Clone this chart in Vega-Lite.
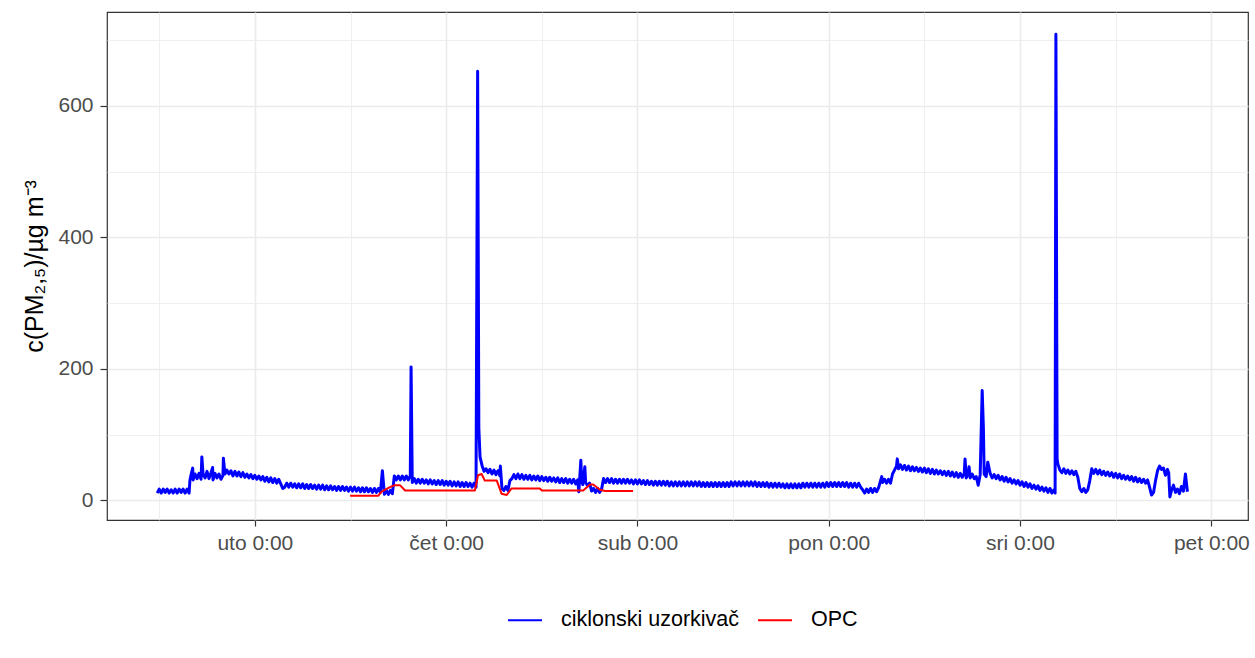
{
  "$schema": "https://vega.github.io/schema/vega-lite/v6.json",
  "width": 1141,
  "height": 508,
  "autosize": {"type": "none"},
  "padding": {"left": 107, "top": 12, "right": 7, "bottom": 138},
  "background": "white",
  "config": {
    "view": {"stroke": "#333333", "strokeWidth": 1.2},
    "font": "Liberation Sans"
  },
  "datasets": {
    "ciklonski": [
      {"h":-0.5,"v":11},{"h":0,"v":17},{"h":0.5,"v":11},{"h":1,"v":17},{"h":1.5,"v":12},{"h":2,"v":17},{"h":2.5,"v":11},{"h":3,"v":16},{"h":3.5,"v":11},{"h":4,"v":17},{"h":4.5,"v":11},{"h":5,"v":17},{"h":5.5,"v":12},{"h":6,"v":17},{"h":6.5,"v":11},{"h":7,"v":17},{"h":7.5,"v":11},
      {"h":7.7,"v":30},{"h":8,"v":39},{"h":8.4,"v":49},{"h":8.5,"v":31},{"h":9,"v":40},{"h":9.5,"v":33},{"h":10,"v":41},{"h":10.5,"v":32},{"h":10.7,"v":66},{"h":11,"v":40},{"h":11.5,"v":34},{"h":12,"v":44},{"h":12.5,"v":33},{"h":13,"v":42},{"h":13.4,"v":50},{"h":13.5,"v":31},{"h":14,"v":41},{"h":14.5,"v":34},{"h":15,"v":40},{"h":15.5,"v":32},{"h":16,"v":38},{"h":16.1,"v":64},{"h":16.5,"v":40},{"h":17,"v":46},{"h":17.5,"v":40},
      {"h":18,"v":45},{"h":18.5,"v":37},{"h":19,"v":44},{"h":19.5,"v":37},{"h":20,"v":43},{"h":20.5,"v":36},{"h":21,"v":42},{"h":21.5,"v":35},{"h":22,"v":40},{"h":22.5,"v":34},{"h":23,"v":39},{"h":23.5,"v":33},{"h":24,"v":38},{"h":24.5,"v":32},{"h":25,"v":37},{"h":25.5,"v":31},{"h":26,"v":36},{"h":26.5,"v":29},{"h":27,"v":35},{"h":27.5,"v":28},{"h":28,"v":34},{"h":28.5,"v":27},{"h":29,"v":33},{"h":29.5,"v":26},{"h":30,"v":32},{"h":30.5,"v":25},{"h":31,"v":18},{"h":31.5,"v":20},{"h":32,"v":26},{"h":32.5,"v":20},
      {"h":33,"v":26},{"h":33.5,"v":20},{"h":34,"v":25},{"h":34.5,"v":19},{"h":35,"v":25},{"h":35.5,"v":19},{"h":36,"v":25},{"h":36.5,"v":18},{"h":37,"v":24},{"h":37.5,"v":18},{"h":38,"v":24},{"h":38.5,"v":18},{"h":39,"v":23},{"h":39.5,"v":17},{"h":40,"v":23},{"h":40.5,"v":17},{"h":41,"v":23},{"h":41.5,"v":16},{"h":42,"v":22},{"h":42.5,"v":16},{"h":43,"v":22},{"h":43.5,"v":16},{"h":44,"v":21},{"h":44.5,"v":15},{"h":45,"v":21},{"h":45.5,"v":15},{"h":46,"v":21},{"h":46.5,"v":15},{"h":47,"v":20},{"h":47.5,"v":14},{"h":48,"v":20},{"h":48.5,"v":14},{"h":49,"v":20},{"h":49.5,"v":14},{"h":50,"v":19},{"h":50.5,"v":13},{"h":51,"v":19},{"h":51.5,"v":13},{"h":52,"v":19},{"h":52.5,"v":13},{"h":53,"v":18},{"h":53.5,"v":12},{"h":54,"v":18},{"h":54.5,"v":12},{"h":55,"v":18},{"h":55.5,"v":12},{"h":56,"v":45},{"h":56.5,"v":9},{"h":57,"v":15},{"h":57.5,"v":9},{"h":58,"v":15},{"h":58.5,"v":10},{"h":59,"v":37},{"h":59.5,"v":31},{"h":60,"v":37},{"h":60.5,"v":31},{"h":61,"v":37},{"h":61.5,"v":31},{"h":62,"v":37},{"h":62.5,"v":31},{"h":63,"v":37},{"h":63.2,"v":203},{"h":63.5,"v":27},
      {"h":64,"v":33},{"h":64.5,"v":26},{"h":65,"v":32},{"h":65.5,"v":26},{"h":66,"v":32},{"h":66.5,"v":26},{"h":67,"v":31},{"h":67.5,"v":25},{"h":68,"v":31},{"h":68.5,"v":25},{"h":69,"v":30},{"h":69.5,"v":24},{"h":70,"v":30},{"h":70.5,"v":24},{"h":71,"v":30},{"h":71.5,"v":23},{"h":72,"v":29},{"h":72.5,"v":23},{"h":73,"v":29},{"h":73.5,"v":22},{"h":74,"v":28},{"h":74.5,"v":22},{"h":75,"v":28},{"h":75.5,"v":21},{"h":76,"v":27},{"h":76.5,"v":21},{"h":77,"v":27},{"h":77.5,"v":21},{"h":78,"v":26},{"h":78.5,"v":20},{"h":79,"v":26},{"h":79.5,"v":20},{"h":79.9,"v":653},{"h":80.2,"v":110},{"h":80.5,"v":66},{"h":81,"v":53},{"h":81.5,"v":44},{"h":82,"v":48},{"h":82.5,"v":42},{"h":83,"v":47},{"h":83.5,"v":40},{"h":84,"v":46},{"h":84.5,"v":39},{"h":85,"v":45},{"h":85.5,"v":37},{"h":85.6,"v":52},{"h":86,"v":18},{"h":86.5,"v":15},{"h":87,"v":21},{"h":87.5,"v":15},{"h":88,"v":30},{"h":88.5,"v":33},{"h":89,"v":39},{"h":89.5,"v":33},{"h":90,"v":40},{"h":90.5,"v":33},
      {"h":91,"v":39},{"h":91.5,"v":32},{"h":92,"v":38},{"h":92.5,"v":32},{"h":93,"v":38},{"h":93.5,"v":31},{"h":94,"v":37},{"h":94.5,"v":31},{"h":95,"v":37},{"h":95.5,"v":30},{"h":96,"v":36},{"h":96.5,"v":30},{"h":97,"v":35},{"h":97.5,"v":29},{"h":98,"v":35},{"h":98.5,"v":29},{"h":99,"v":34},{"h":99.5,"v":28},{"h":100,"v":34},{"h":100.5,"v":27},{"h":101,"v":33},{"h":101.5,"v":27},{"h":102,"v":33},{"h":102.5,"v":26},{"h":103,"v":32},{"h":103.5,"v":26},{"h":104,"v":32},{"h":104.5,"v":25},{"h":105,"v":31},{"h":105.3,"v":13},{"h":105.8,"v":61},{"h":106,"v":28},{"h":106.3,"v":24},{"h":106.8,"v":51},{"h":107,"v":27},{"h":107.5,"v":22},{"h":108,"v":26},{"h":108.5,"v":14},{"h":109,"v":18},{"h":109.5,"v":12},{"h":110,"v":18},{"h":110.5,"v":12},{"h":111,"v":17},{"h":111.5,"v":33},{"h":112,"v":27},
      {"h":112.5,"v":33},{"h":113,"v":27},{"h":113.5,"v":33},{"h":114,"v":26},{"h":114.5,"v":32},{"h":115,"v":26},{"h":115.5,"v":32},{"h":116,"v":26},{"h":116.5,"v":32},{"h":117,"v":26},{"h":117.5,"v":32},{"h":118,"v":26},{"h":118.5,"v":31},{"h":119,"v":25},{"h":119.5,"v":31},{"h":120,"v":25},{"h":120.5,"v":31},{"h":121,"v":25},{"h":121.5,"v":30},{"h":122,"v":24},{"h":122.5,"v":30},{"h":123,"v":24},{"h":123.5,"v":29},{"h":124,"v":23},{"h":124.5,"v":29},{"h":125,"v":23},{"h":125.5,"v":29},{"h":126,"v":23},{"h":126.5,"v":29},{"h":127,"v":23},{"h":127.5,"v":29},{"h":128,"v":22},{"h":128.5,"v":28},{"h":129,"v":22},{"h":129.5,"v":28},{"h":130,"v":22},{"h":130.5,"v":28},{"h":131,"v":22},{"h":131.5,"v":28},{"h":132,"v":22},{"h":132.5,"v":28},{"h":133,"v":22},{"h":133.5,"v":28},{"h":134,"v":22},{"h":134.5,"v":28},{"h":135,"v":22},{"h":135.5,"v":28},{"h":136,"v":21},{"h":136.5,"v":27},{"h":137,"v":21},{"h":137.5,"v":27},{"h":138,"v":21},{"h":138.5,"v":27},{"h":139,"v":21},{"h":139.5,"v":27},{"h":140,"v":21},{"h":140.5,"v":27},{"h":141,"v":21},{"h":141.5,"v":27},{"h":142,"v":21},{"h":142.5,"v":27},{"h":143,"v":21},{"h":143.5,"v":28},{"h":144,"v":22},{"h":144.5,"v":28},{"h":145,"v":22},{"h":145.5,"v":28},{"h":146,"v":22},{"h":146.5,"v":28},{"h":147,"v":22},{"h":147.5,"v":28},{"h":148,"v":22},{"h":148.5,"v":28},{"h":149,"v":22},{"h":149.5,"v":28},{"h":150,"v":21},{"h":150.5,"v":27},{"h":151,"v":21},{"h":151.5,"v":27},{"h":152,"v":21},{"h":152.5,"v":27},{"h":153,"v":20},{"h":153.5,"v":26},{"h":154,"v":20},{"h":154.5,"v":26},{"h":155,"v":20},{"h":155.5,"v":26},{"h":156,"v":20},{"h":156.5,"v":25},{"h":157,"v":19},{"h":157.5,"v":25},{"h":158,"v":19},{"h":158.5,"v":25},{"h":159,"v":19},{"h":159.5,"v":25},{"h":160,"v":19},{"h":160.5,"v":25},{"h":161,"v":19},{"h":161.5,"v":26},{"h":162,"v":20},{"h":162.5,"v":26},{"h":163,"v":20},{"h":163.5,"v":26},{"h":164,"v":20},{"h":164.5,"v":26},{"h":165,"v":20},{"h":165.5,"v":26},{"h":166,"v":20},{"h":166.5,"v":26},{"h":167,"v":20},{"h":167.5,"v":27},{"h":168,"v":21},{"h":168.5,"v":27},{"h":169,"v":21},{"h":169.5,"v":27},{"h":170,"v":21},{"h":170.5,"v":27},{"h":171,"v":21},{"h":171.5,"v":27},{"h":172,"v":21},{"h":172.5,"v":27},{"h":173,"v":20},{"h":173.5,"v":26},{"h":174,"v":20},{"h":174.5,"v":26},{"h":175,"v":20},{"h":175.5,"v":26},{"h":176,"v":20},
      {"h":176.5,"v":16},{"h":177,"v":11},{"h":177.5,"v":17},{"h":178,"v":12},{"h":178.5,"v":18},{"h":179,"v":12},{"h":179.5,"v":18},{"h":180,"v":13},{"h":180.5,"v":19},{"h":181,"v":30},{"h":181.3,"v":36},{"h":181.5,"v":27},{"h":182,"v":32},{"h":182.5,"v":26},{"h":183,"v":32},{"h":183.5,"v":26},{"h":184,"v":40},{"h":184.5,"v":46},{"h":185,"v":52},{"h":185.2,"v":63},{"h":185.5,"v":48},
      {"h":186,"v":54},{"h":186.5,"v":47},{"h":187,"v":53},{"h":187.5,"v":46},{"h":188,"v":52},{"h":188.5,"v":45},{"h":189,"v":51},{"h":189.5,"v":45},{"h":190,"v":50},{"h":190.5,"v":44},{"h":191,"v":49},{"h":191.5,"v":43},{"h":192,"v":49},{"h":192.5,"v":42},{"h":193,"v":48},{"h":193.5,"v":41},{"h":194,"v":47},{"h":194.5,"v":40},{"h":195,"v":46},{"h":195.5,"v":40},{"h":196,"v":45},{"h":196.5,"v":39},{"h":197,"v":44},{"h":197.5,"v":38},{"h":198,"v":44},{"h":198.5,"v":37},{"h":199,"v":43},{"h":199.5,"v":36},{"h":200,"v":42},{"h":200.5,"v":35},{"h":201,"v":41},{"h":201.5,"v":35},{"h":202,"v":41},{"h":202.2,"v":63},{"h":202.5,"v":34},{"h":203,"v":40},{"h":203.2,"v":51},{"h":203.5,"v":34},{"h":204,"v":40},{"h":204.5,"v":33},{"h":205,"v":36},{"h":205.5,"v":23},{"h":206,"v":39},{"h":206.5,"v":167},{"h":206.8,"v":111},{"h":207,"v":40},{"h":207.5,"v":36},{"h":207.9,"v":58},{"h":208.5,"v":41},
      {"h":209,"v":34},{"h":209.5,"v":39},{"h":210,"v":33},{"h":210.5,"v":38},{"h":211,"v":31},{"h":211.5,"v":36},{"h":212,"v":29},{"h":212.5,"v":35},{"h":213,"v":28},{"h":213.5,"v":33},{"h":214,"v":26},{"h":214.5,"v":31},{"h":215,"v":25},{"h":215.5,"v":30},{"h":216,"v":23},{"h":216.5,"v":28},{"h":217,"v":21},{"h":217.5,"v":27},{"h":218,"v":20},{"h":218.5,"v":25},{"h":219,"v":18},{"h":219.5,"v":23},{"h":220,"v":17},{"h":220.5,"v":22},{"h":221,"v":15},{"h":221.5,"v":20},{"h":222,"v":14},{"h":222.5,"v":19},{"h":223,"v":12},{"h":223.5,"v":18},{"h":224,"v":11},{"h":224.5,"v":16},{"h":224.8,"v":11},{"h":225,"v":709},{"h":225.3,"v":63},{"h":225.5,"v":55},{"h":226,"v":46},
      {"h":226.5,"v":42},{"h":227,"v":48},{"h":227.5,"v":41},{"h":228,"v":46},{"h":228.5,"v":40},{"h":229,"v":45},{"h":229.5,"v":39},{"h":230,"v":44},{"h":230.5,"v":35},{"h":231,"v":18},{"h":231.5,"v":13},{"h":232,"v":18},{"h":232.5,"v":12},{"h":233,"v":16},{"h":233.5,"v":30},{"h":234,"v":48},
      {"h":234.5,"v":41},{"h":235,"v":47},{"h":235.5,"v":40},{"h":236,"v":46},{"h":236.5,"v":39},{"h":237,"v":44},{"h":237.5,"v":38},{"h":238,"v":43},{"h":238.5,"v":37},{"h":239,"v":42},{"h":239.5,"v":35},{"h":240,"v":41},{"h":240.5,"v":34},{"h":241,"v":40},{"h":241.5,"v":33},{"h":242,"v":38},{"h":242.5,"v":32},{"h":243,"v":37},{"h":243.5,"v":31},{"h":244,"v":36},{"h":244.5,"v":29},{"h":245,"v":35},{"h":245.5,"v":28},{"h":246,"v":33},{"h":246.5,"v":27},{"h":247,"v":32},{"h":247.5,"v":26},{"h":248,"v":31},{"h":248.5,"v":20},{"h":249,"v":8},{"h":249.5,"v":12},{"h":250,"v":30},{"h":250.5,"v":45},{"h":251,"v":52},{"h":251.5,"v":47},{"h":252,"v":49},{"h":252.5,"v":38},{"h":253,"v":47},{"h":253.3,"v":42},{"h":253.6,"v":5},{"h":254,"v":15},{"h":254.5,"v":23},{"h":255,"v":12},{"h":255.5,"v":17},{"h":256,"v":10},{"h":256.5,"v":21},{"h":257,"v":14},{"h":257.5,"v":40},{"h":258,"v":13}
    ],
    "opc": [
      {"h":47.9,"v":7},{"h":55,"v":7},{"h":55.8,"v":13},{"h":57.9,"v":20},{"h":59.1,"v":23},{"h":60.4,"v":23},{"h":61.7,"v":15},{"h":79.2,"v":15},{"h":80,"v":38},{"h":80.9,"v":40},{"h":81.7,"v":30},{"h":84.7,"v":30},{"h":85.9,"v":10},{"h":87.2,"v":8},{"h":88.4,"v":18},{"h":95.5,"v":18},{"h":96,"v":15},{"h":106.4,"v":15},{"h":108.1,"v":24},{"h":108.9,"v":24},{"h":110.6,"v":16},{"h":111.9,"v":14},{"h":118.9,"v":14}
    ]
  },
  "layer": [
    {
      "data": {"name": "ciklonski"},
      "mark": {"type": "line", "strokeWidth": 3, "strokeJoin": "round", "clip": true},
      "encoding": {
        "x": {
          "field": "h", "type": "quantitative",
          "scale": {"domain": [-13.1, 273.2], "nice": false, "zero": false},
          "axis": {
            "title": null,
            "values": [0, 24, 48, 72, 96, 120, 144, 168, 192, 216, 240, 264],
            "domain": false,
            "grid": true,
            "gridColor": "#ebebeb",
            "gridWidth": {"condition": {"test": "datum.value % 48 == 24", "value": 1.6}, "value": 0.8},
            "ticks": true,
            "tickColor": "#333333",
            "tickWidth": 1.2,
            "tickSize": 6,
            "tickOpacity": {"condition": {"test": "datum.value % 48 == 24", "value": 1}, "value": 0},
            "labelExpr": "datum.value % 48 == 24 ? ['pon','uto','sri','čet','pet','sub','ned'][(datum.value/24)%7] + ' 0:00' : ''",
            "labelFontSize": 21,
            "labelColor": "#4d4d4d",
            "labelPadding": 6,
            "labelOverlap": false,
            "labelFlush": false
          }
        },
        "y": {
          "field": "v", "type": "quantitative",
          "scale": {"domain": [-30, 743], "nice": false, "zero": false},
          "axis": {
            "title": "c(PM₂,₅)/µg m⁻³",
            "titleFontSize": 25,
            "titleFontWeight": "normal",
            "titleColor": "#000000",
            "titlePadding": 10,
            "values": [0, 100, 200, 300, 400, 500, 600, 700],
            "domain": false,
            "grid": true,
            "gridColor": "#ebebeb",
            "gridWidth": {"condition": {"test": "datum.value % 200 == 0", "value": 1.6}, "value": 0.8},
            "tickColor": "#333333",
            "tickWidth": 1.2,
            "tickSize": 7,
            "tickOpacity": {"condition": {"test": "datum.value % 200 == 0", "value": 1}, "value": 0},
            "labelExpr": "datum.value % 200 == 0 ? datum.label : ''",
            "labelFontSize": 21,
            "labelColor": "#4d4d4d",
            "labelPadding": 7,
            "labelOverlap": false,
            "labelFlush": false
          }
        },
        "color": {
          "datum": "ciklonski uzorkivač",
          "type": "nominal",
          "scale": {"domain": ["ciklonski uzorkivač", "OPC"], "range": ["#0000ff", "#ff0000"]},
          "legend": {
            "orient": "none",
            "legendX": 400,
            "legendY": 590,
            "direction": "horizontal",
            "title": null,
            "symbolType": "stroke",
            "symbolSize": 1156,
            "symbolStrokeWidth": 2,
            "labelFontSize": 21.5,
            "labelLimit": 400,
            "labelColor": "#000000",
            "labelOffset": 18,
            "columnPadding": 14,
            "padding": 0
          }
        }
      }
    },
    {
      "data": {"name": "opc"},
      "mark": {"type": "line", "strokeWidth": 2, "strokeJoin": "round", "clip": true},
      "encoding": {
        "x": {"field": "h", "type": "quantitative"},
        "y": {"field": "v", "type": "quantitative"},
        "color": {"datum": "OPC", "type": "nominal"}
      }
    }
  ]
}
